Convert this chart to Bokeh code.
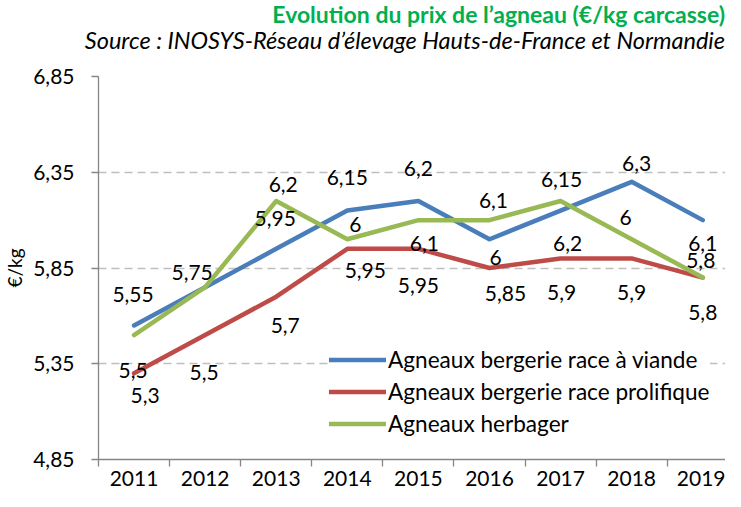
from bokeh.plotting import figure
from bokeh.models import (ColumnDataSource, FixedTicker, CustomJSTickFormatter,
                          Range1d, Legend, LegendItem, Div)
from bokeh.layouts import column
from bokeh.embed import file_html
from bokeh.resources import INLINE
from bokeh.core.properties import value

# ---------------- data ----------------
years = [2011, 2012, 2013, 2014, 2015, 2016, 2017, 2018, 2019]
viande = [5.55, 5.75, 5.95, 6.15, 6.2, 6.0, 6.15, 6.3, 6.1]
prolifique = [5.3, 5.5, 5.7, 5.95, 5.95, 5.85, 5.9, 5.9, 5.8]
herbager = [5.5, 5.75, 6.2, 6.0, 6.1, 6.1, 6.2, 6.0, 5.8]
y_ticks = [4.85, 5.35, 5.85, 6.35, 6.85]
series_names = ["Agneaux bergerie race à viande",
                "Agneaux bergerie race prolifique",
                "Agneaux herbager"]
title_text = "Evolution du prix de l’agneau (€/kg carcasse)"
subtitle_text = "Source : INOSYS-Réseau d’élevage Hauts-de-France et Normandie"

# ---------------- label placement (pixels) ----------------
viande_dx = [-1, -13, -1, 0, 0, 6, 1, 5, 0]
viande_dy = [-31, -15, -30, -33, -32, 18, -31, -18, 23]
prolif_dx = [11, -1, 9, 18, 0, 16, 1, 0, 0]
prolif_dy = [22, 37, 29, 22, 37, 25, 34, 34, 35]
herb_dx = [-1, -13, 7, 8, 6, 4, 7, -6, -2]
herb_dy = [35, -15, -16, -15, 23, -20, 43, -22, -17]

FONT = "Lato"
COLORS = ["#4A7EBB", "#BE4B48", "#98B954"]
W = 725
HEAD_H = 61


def fmt(v):
    return f"{v:g}".replace(".", ",")


# ---------------- heading (title + source) ----------------
head_html = (
    f'<div style="position:relative;width:{W}px;height:{HEAD_H}px;'
    f'font-family:{FONT};white-space:nowrap;">'
    f'<div style="position:absolute;right:0px;top:1px;font-size:23px;'
    f'font-weight:bold;color:#00B050;line-height:26px;">{title_text}</div>'
    f'<div style="position:absolute;right:0px;top:29px;font-size:23.5px;'
    f'font-style:italic;color:black;line-height:22px;">{subtitle_text}</div>'
    f'</div>'
)
head = Div(text=head_html, width=W, height=HEAD_H, margin=0)

# ---------------- chart ----------------
p = figure(width=W, height=491 - HEAD_H, output_backend="svg",
           toolbar_location=None,
           x_range=Range1d(2010.5, 2019.32), y_range=Range1d(4.85, 6.85),
           min_border_left=90, min_border_right=0, min_border_top=15,
           min_border_bottom=32, margin=0)
p.outline_line_color = None
p.background_fill_color = "white"
p.border_fill_color = "white"
p.title.visible = False

# x axis
xa = p.xaxis[0]
xa.ticker = FixedTicker(ticks=years,
                        minor_ticks=[y - 0.5 for y in years] + [years[-1] + 0.5])
xa.major_tick_out = 0
xa.major_tick_in = 0
xa.minor_tick_out = 7
xa.minor_tick_in = 0
xa.minor_tick_line_color = "#868686"
xa.minor_tick_line_width = 1.3
xa.axis_line_color = "#868686"
xa.axis_line_width = 1.3
xa.major_label_standoff = 4
xa.major_label_text_font = FONT
xa.major_label_text_font_size = "21px"
xa.major_label_text_color = "black"

# y axis
ya = p.yaxis[0]
ya.ticker = FixedTicker(ticks=y_ticks)
ya.formatter = CustomJSTickFormatter(code="return tick.toFixed(2).replace('.', ',');")
ya.major_tick_out = 7
ya.major_tick_in = 0
ya.major_tick_line_color = "#868686"
ya.major_tick_line_width = 1.3
ya.minor_tick_line_color = None
ya.axis_line_color = "#868686"
ya.axis_line_width = 1.3
ya.major_label_standoff = 17
ya.major_label_text_font = FONT
ya.major_label_text_font_size = "21px"
ya.major_label_text_color = "black"
ya.axis_label = "€/kg"
ya.axis_label_text_font = FONT
ya.axis_label_text_font_size = "19px"
ya.axis_label_text_font_style = "normal"
ya.axis_label_text_color = "black"
ya.axis_label_standoff = 4

# grid
p.xgrid.visible = False
p.ygrid.ticker = FixedTicker(ticks=y_ticks)
p.ygrid.grid_line_color = "#BFBFBF"
p.ygrid.grid_line_dash = "8 5"
p.ygrid.grid_line_width = 1.3

src = ColumnDataSource(dict(year=years, viande=viande, prolifique=prolifique,
                            herbager=herbager))

renderers = []
for col, color in zip(["viande", "prolifique", "herbager"], COLORS):
    r = p.line(x="year", y=col, source=src, line_color=color, line_width=4.5,
               line_join="round", line_cap="round")
    renderers.append(r)

seen = set()
for vals, dx, dy in [(viande, viande_dx, viande_dy),
                     (prolifique, prolif_dx, prolif_dy),
                     (herbager, herb_dx, herb_dy)]:
    cols = dict(x=[], y=[], t=[], dx=[], dy=[])
    for yr, v, ox, oy in zip(years, vals, dx, dy):
        key = (yr, fmt(v), ox, oy)
        if key in seen:      # identical label already drawn at the same spot
            continue
        seen.add(key)
        cols["x"].append(yr)
        cols["y"].append(v)
        cols["t"].append(fmt(v))
        cols["dx"].append(ox)
        cols["dy"].append(oy)
    p.text(x="x", y="y", text="t", x_offset="dx", y_offset="dy",
           source=ColumnDataSource(cols),
           text_font=value(FONT), text_font_size="21px", text_color="black",
           text_align="center", text_baseline="middle")

legend = Legend(items=[LegendItem(label=n, renderers=[r])
                       for n, r in zip(series_names, renderers)],
                location=(231, 22), orientation="vertical",
                label_text_font=FONT, label_text_font_size="22.6px",
                label_text_color="black", glyph_width=57, glyph_height=27,
                label_height=27, label_standoff=2, spacing=5, padding=28,
                margin=0, border_line_color=None, background_fill_color="white",
                background_fill_alpha=1.0)
p.add_layout(legend)

layout = column(head, p, spacing=0)
open("out.html", "w").write(file_html(layout, INLINE))
